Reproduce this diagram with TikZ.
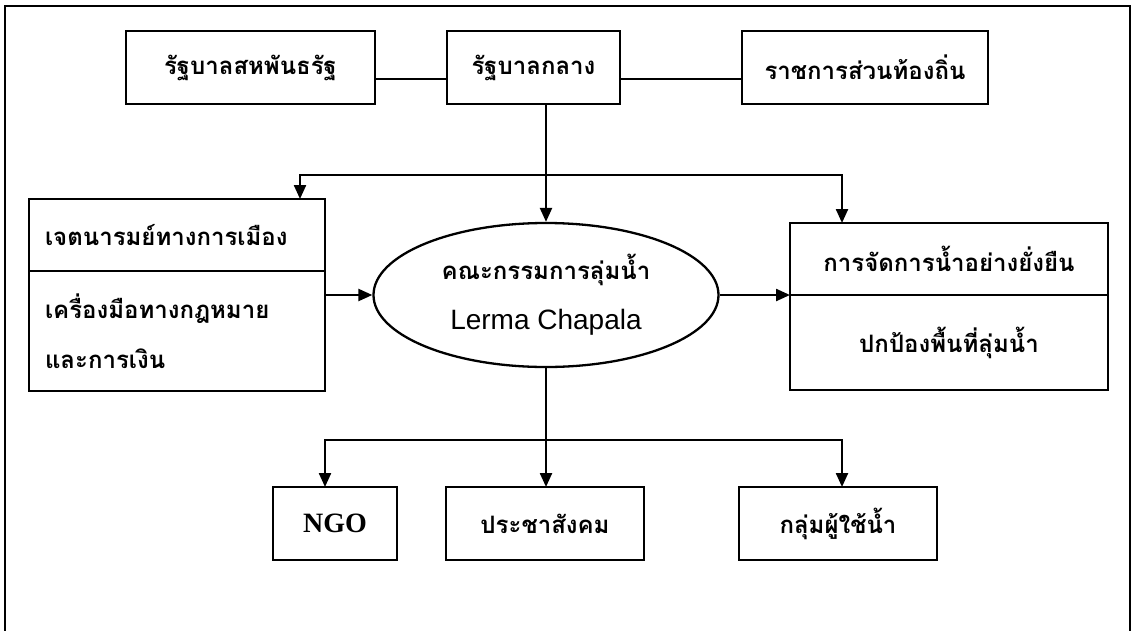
\documentclass[tikz,border=0pt]{standalone}
\usepackage{fontspec}
\newfontfamily\thaifont[Script=Thai]{Loma}
\newfontfamily\latinsans{Liberation Sans}
\newfontfamily\latinserif{Liberation Serif}
\usetikzlibrary{arrows.meta, positioning, shapes.geometric}
\tikzset{
	x=1pt, y=-1pt,
	>={Triangle[length=14pt, width=12pt]},
	box/.style={draw, rectangle, inner sep=0pt, outer sep=0pt, minimum height=73pt,
		font=\thaifont\bfseries\fontsize{24}{28}\selectfont},
	half/.style={box, minimum height=72pt},
	basin/.style={draw, ellipse, minimum width=345pt, minimum height=144pt, inner sep=0pt,
		align=center, font=\thaifont\bfseries\fontsize{24}{28}\selectfont}
}

\begin{document}
\begin{tikzpicture}[line width=2.3pt]
	\useasboundingbox (0,0) rectangle (1133,630);
	% frame, open at the foot
	\draw (5,640) -- (5,6) -- (1130,6) -- (1130,640);
	
	\node[box, minimum width=249pt] (fed) at (250.5,67.5) {รัฐบาลสหพันธรัฐ};
	\node[box, minimum width=173pt] (central) at (533.5,67.5) {รัฐบาลกลาง};
	\node[box, minimum width=246pt] (local) at (865,67.5) {ราชการส่วนท้องถิ่น};
	
	\node[basin] (board) at (546,295) {คณะกรรมการลุ่มน้ำ\\[22pt]{\latinsans\mdseries\fontsize{28}{32}\selectfont Lerma Chapala}};
	
	\node[half, minimum width=296pt, text width=264pt, align=left] (will) at (177,235) {เจตนารมย์ทางการเมือง};
	\node[half, minimum width=296pt, minimum height=120pt, text width=264pt, align=left, below=0pt of will] (tools) {เครื่องมือทางกฎหมาย\\[22pt]และการเงิน};
	
	\node[half, minimum width=318pt] (manage) at (949,259) {การจัดการน้ำอย่างยั่งยืน};
	\node[half, minimum width=318pt, minimum height=95pt, below=0pt of manage] (protect) {ปกป้องพื้นที่ลุ่มน้ำ};
	
	\node[box, minimum width=124pt, font=\latinserif\bfseries\fontsize{28}{32}\selectfont] (ngo) at (335,523.5) {NGO};
	\node[box, minimum width=198pt] (civil) at (545,523.5) {ประชาสังคม};
	\node[box, minimum width=198pt] (users) at (838,523.5) {กลุ่มผู้ใช้น้ำ};
	
	% links
	\draw ([yshift=-11.5pt]fed.east) -- ([yshift=-11.5pt]central.west);
	\draw ([yshift=-11.5pt]central.east) -- ([yshift=-11.5pt]local.west);
	\coordinate (topl) at (300,175);
	\coordinate (topr) at (842,175);
	\draw[->] (central.south -| board.north) -- (board.north);
	\draw[<->] (topl |- will.north) -- (topl) -- (topr) -- (topr |- manage.north);
	\draw[->] (tools.east |- board.west) -- (board.west);
	\draw[->] (board.east) -- (board.east -| manage.west);
	\coordinate (lowl) at (325,440);
	\coordinate (lowr) at (842,440);
	\draw[<->] (lowl |- ngo.north) -- (lowl) -- (lowr) -- (lowr |- users.north);
	\draw[->] (board.south) -- (board.south |- civil.north);
\end{tikzpicture}
\end{document}
